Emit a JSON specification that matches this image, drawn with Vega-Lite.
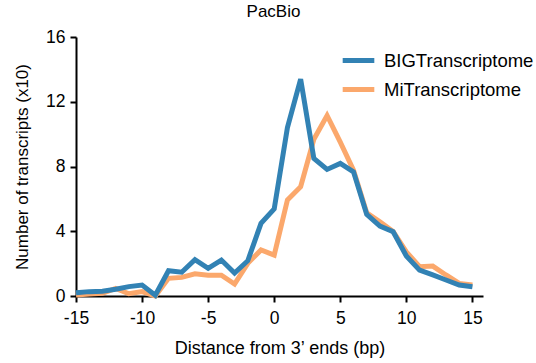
{
  "$schema": "https://vega.github.io/schema/vega-lite/v6.json",
  "autosize": {"type": "none"},
  "width": 407,
  "height": 259,
  "padding": {"left": 76, "top": 37, "right": 53, "bottom": 67},
  "background": "white",
  "title": {"text": "PacBio", "fontSize": 17, "fontWeight": "normal", "font": "Liberation Sans", "color": "black", "offset": 7, "dx": -6},
  "config": {
    "view": {"stroke": null},
    "font": "Liberation Sans"
  },
  "data": {"values": [
    {"x": -15, "v": 0.2, "s": "BIGTranscriptome"},
    {"x": -14, "v": 0.27, "s": "BIGTranscriptome"},
    {"x": -13, "v": 0.3, "s": "BIGTranscriptome"},
    {"x": -12, "v": 0.42, "s": "BIGTranscriptome"},
    {"x": -11, "v": 0.58, "s": "BIGTranscriptome"},
    {"x": -10, "v": 0.68, "s": "BIGTranscriptome"},
    {"x": -9, "v": 0.05, "s": "BIGTranscriptome"},
    {"x": -8, "v": 1.56, "s": "BIGTranscriptome"},
    {"x": -7, "v": 1.47, "s": "BIGTranscriptome"},
    {"x": -6, "v": 2.24, "s": "BIGTranscriptome"},
    {"x": -5, "v": 1.71, "s": "BIGTranscriptome"},
    {"x": -4, "v": 2.22, "s": "BIGTranscriptome"},
    {"x": -3, "v": 1.42, "s": "BIGTranscriptome"},
    {"x": -2, "v": 2.18, "s": "BIGTranscriptome"},
    {"x": -1, "v": 4.49, "s": "BIGTranscriptome"},
    {"x": 0, "v": 5.38, "s": "BIGTranscriptome"},
    {"x": 1, "v": 10.4, "s": "BIGTranscriptome"},
    {"x": 2, "v": 13.4, "s": "BIGTranscriptome"},
    {"x": 3, "v": 8.5, "s": "BIGTranscriptome"},
    {"x": 4, "v": 7.82, "s": "BIGTranscriptome"},
    {"x": 5, "v": 8.19, "s": "BIGTranscriptome"},
    {"x": 6, "v": 7.67, "s": "BIGTranscriptome"},
    {"x": 7, "v": 5.05, "s": "BIGTranscriptome"},
    {"x": 8, "v": 4.32, "s": "BIGTranscriptome"},
    {"x": 9, "v": 3.97, "s": "BIGTranscriptome"},
    {"x": 10, "v": 2.47, "s": "BIGTranscriptome"},
    {"x": 11, "v": 1.6, "s": "BIGTranscriptome"},
    {"x": 12, "v": 1.3, "s": "BIGTranscriptome"},
    {"x": 13, "v": 0.99, "s": "BIGTranscriptome"},
    {"x": 14, "v": 0.68, "s": "BIGTranscriptome"},
    {"x": 15, "v": 0.57, "s": "BIGTranscriptome"},
    {"x": -15, "v": 0.06, "s": "MiTranscriptome"},
    {"x": -14, "v": 0.12, "s": "MiTranscriptome"},
    {"x": -13, "v": 0.17, "s": "MiTranscriptome"},
    {"x": -12, "v": 0.47, "s": "MiTranscriptome"},
    {"x": -11, "v": 0.14, "s": "MiTranscriptome"},
    {"x": -10, "v": 0.27, "s": "MiTranscriptome"},
    {"x": -9, "v": 0.0, "s": "MiTranscriptome"},
    {"x": -8, "v": 1.09, "s": "MiTranscriptome"},
    {"x": -7, "v": 1.15, "s": "MiTranscriptome"},
    {"x": -6, "v": 1.37, "s": "MiTranscriptome"},
    {"x": -5, "v": 1.28, "s": "MiTranscriptome"},
    {"x": -4, "v": 1.28, "s": "MiTranscriptome"},
    {"x": -3, "v": 0.74, "s": "MiTranscriptome"},
    {"x": -2, "v": 2.02, "s": "MiTranscriptome"},
    {"x": -1, "v": 2.84, "s": "MiTranscriptome"},
    {"x": 0, "v": 2.53, "s": "MiTranscriptome"},
    {"x": 1, "v": 5.93, "s": "MiTranscriptome"},
    {"x": 2, "v": 6.75, "s": "MiTranscriptome"},
    {"x": 3, "v": 9.68, "s": "MiTranscriptome"},
    {"x": 4, "v": 11.15, "s": "MiTranscriptome"},
    {"x": 5, "v": 9.5, "s": "MiTranscriptome"},
    {"x": 6, "v": 7.78, "s": "MiTranscriptome"},
    {"x": 7, "v": 5.14, "s": "MiTranscriptome"},
    {"x": 8, "v": 4.59, "s": "MiTranscriptome"},
    {"x": 9, "v": 3.99, "s": "MiTranscriptome"},
    {"x": 10, "v": 2.73, "s": "MiTranscriptome"},
    {"x": 11, "v": 1.81, "s": "MiTranscriptome"},
    {"x": 12, "v": 1.85, "s": "MiTranscriptome"},
    {"x": 13, "v": 1.3, "s": "MiTranscriptome"},
    {"x": 14, "v": 0.78, "s": "MiTranscriptome"},
    {"x": 15, "v": 0.68, "s": "MiTranscriptome"}
  ]},
  "encoding": {
    "x": {
      "field": "x", "type": "quantitative",
      "scale": {"domain": [-15, 15.8], "nice": false, "zero": false},
      "axis": {
        "title": "Distance from 3’ ends (bp)",
        "values": [-15, -10, -5, 0, 5, 10, 15],
        "labelExpr": "datum.value < 0 ? '-' + abs(datum.value) : '' + datum.value",
        "grid": false, "labelFlush": false, "labelOverlap": false,
        "domainColor": "black", "domainWidth": 2,
        "tickColor": "black", "tickWidth": 2, "tickSize": 6,
        "labelFontSize": 17.5, "labelColor": "black", "labelPadding": 7,
        "titleFontSize": 18, "titleFontWeight": "normal", "titleColor": "black", "titlePadding": 13
      }
    },
    "y": {
      "field": "v", "type": "quantitative",
      "scale": {"domain": [0, 16], "nice": false},
      "axis": {
        "title": "Number of transcripts (x10)",
        "values": [0, 4, 8, 12, 16],
        "grid": false, "labelFlush": false, "labelOverlap": false,
        "domainColor": "black", "domainWidth": 2,
        "tickColor": "black", "tickWidth": 2, "tickSize": 6,
        "labelFontSize": 17.5, "labelColor": "black", "labelPadding": 5,
        "titleFontSize": 17, "titleFontWeight": "normal", "titleColor": "black", "titlePadding": 14
      }
    },
    "color": {
      "field": "s", "type": "nominal",
      "scale": {"domain": ["BIGTranscriptome", "MiTranscriptome"], "range": ["#3282b4", "#fba86c"]},
      "legend": {
        "title": null,
        "orient": "none", "legendX": 264, "legendY": 5,
        "symbolType": "stroke", "symbolSize": 1000, "symbolStrokeWidth": 5,
        "labelFontSize": 18.5, "labelColor": "black", "labelOffset": 7,
        "rowPadding": -4
      }
    }
  },
  "layer": [
    {
      "transform": [{"filter": "datum.s === 'MiTranscriptome'"}],
      "mark": {"type": "line", "strokeWidth": 5}
    },
    {
      "transform": [{"filter": "datum.s === 'BIGTranscriptome'"}],
      "mark": {"type": "line", "strokeWidth": 5}
    }
  ]
}
